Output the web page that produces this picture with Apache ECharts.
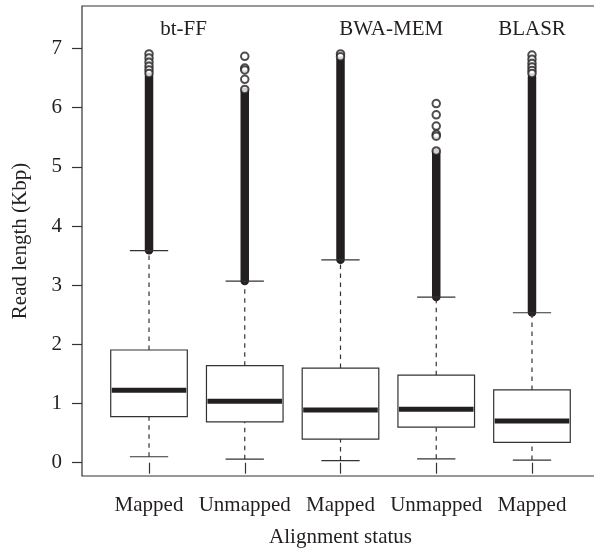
<!DOCTYPE html>
<html><head><meta charset="utf-8">
<script src="https://cdn.jsdelivr.net/npm/echarts@6/dist/echarts.min.js"></script>
<style>html,body{margin:0;padding:0;background:#fff}#c{width:594px;height:552px}</style>
</head><body><div id="c"></div>
<script>
// ---- data ----
const categories = ['Mapped', 'Unmapped', 'Mapped', 'Unmapped', 'Mapped'];
const xPositions = [1, 2, 3, 4, 5];
const whiskerLow = [0.10, 0.06, 0.035, 0.065, 0.045];
const q1 = [0.78, 0.69, 0.40, 0.60, 0.345];
const median = [1.225, 1.04, 0.89, 0.905, 0.705];
const q3 = [1.905, 1.64, 1.60, 1.48, 1.23];
const whiskerHigh = [3.585, 3.07, 3.43, 2.80, 2.535];
const denseOutlierLow = [3.59, 3.07, 3.43, 2.80, 2.54];
const denseOutlierHigh = [6.53, 6.27, 6.81, 5.24, 6.52];
const outliers1 = [6.91, 6.84, 6.77, 6.70, 6.64, 6.58];
const outliers2 = [6.87, 6.67, 6.64, 6.48, 6.31];
const outliers3 = [6.91, 6.86];
const outliers4 = [6.07, 5.88, 5.69, 5.55, 5.52, 5.27];
const outliers5 = [6.89, 6.82, 6.75, 6.69, 6.63, 6.58];
const alignerNames = ['bt-FF', 'BWA-MEM', 'BLASR'];
const alignerLabelX = [1.36, 3.53, 5.0];
const alignerLabelY = [7.32, 7.32, 7.32];
const yTicks = [0, 1, 2, 3, 4, 5, 6, 7];
const yLabel = 'Read length (Kbp)';
const xLabel = 'Alignment status';

// ---- build ----
const FONT = '"Liberation Serif", "Times New Roman", serif';
const FS = 21;
const INK = '#231f20';
const boxData = xPositions.map((x, i) => [x, whiskerLow[i], q1[i], median[i], q3[i], whiskerHigh[i]]);
const denseData = xPositions.map((x, i) => [x, denseOutlierLow[i], denseOutlierHigh[i]]);
const outlierLists = [outliers1, outliers2, outliers3, outliers4, outliers5];
const outlierData = [];
outlierLists.forEach((list, i) => list.forEach(v => outlierData.push([xPositions[i], v])));
const annotData = alignerNames.map((n, i) => [alignerLabelX[i], alignerLabelY[i], n]);

const chart = echarts.init(document.getElementById('c'), null, {renderer: 'canvas'});
chart.setOption({
  animation: false,
  backgroundColor: '#fff',
  grid: {left: 82, top: 6, width: 517, height: 470, show: true, borderColor: '#333', borderWidth: 1.2,
    backgroundColor: 'transparent', containLabel: false, outerBoundsMode: 'none'},
  xAxis: {
    type: 'value', min: 0.3, max: 5.7,
    name: xLabel, nameLocation: 'middle', nameGap: 51,
    nameTextStyle: {fontFamily: FONT, fontSize: FS, color: INK},
    axisLine: {show: false},
    splitLine: {show: false},
    axisTick: {show: true, length: 11, lineStyle: {color: '#333', width: 1.2}, customValues: xPositions},
    axisLabel: {margin: 19, fontFamily: FONT, fontSize: FS, color: INK, customValues: xPositions,
      formatter: v => categories[Math.round(v) - 1] || ''}
  },
  yAxis: {
    type: 'value', min: -0.225, max: 7.72,
    name: yLabel, nameLocation: 'middle', nameGap: 51,
    nameTextStyle: {fontFamily: FONT, fontSize: FS, color: INK},
    axisLine: {show: false},
    splitLine: {show: false},
    axisTick: {show: true, length: 10, lineStyle: {color: '#333', width: 1.2}, customValues: yTicks},
    axisLabel: {margin: 20, fontFamily: FONT, fontSize: FS, color: INK, customValues: yTicks,
      formatter: v => String(Math.round(v))}
  },
  series: [
    {
      type: 'custom', name: 'dense', data: denseData,
      encode: {x: 0, y: [1, 2]},
      renderItem: (params, api) => {
        const x = api.value(0);
        const a = api.coord([x, api.value(1)]);
        const b = api.coord([x, api.value(2)]);
        return {type: 'line', shape: {x1: a[0], y1: a[1], x2: b[0], y2: b[1]},
          style: {stroke: INK, lineWidth: 8.5, lineCap: 'round'}};
      }
    },
    {
      type: 'custom', name: 'box', data: boxData,
      encode: {x: 0, y: [1, 2, 3, 4, 5]},
      renderItem: (params, api) => {
        const x = api.value(0);
        const pLo = api.coord([x, api.value(1)]);
        const pQ1 = api.coord([x, api.value(2)]);
        const pMed = api.coord([x, api.value(3)]);
        const pQ3 = api.coord([x, api.value(4)]);
        const pHi = api.coord([x, api.value(5)]);
        const half = api.size([0.8, 0])[0] / 2;
        const capHalf = api.size([0.4, 0])[0] / 2;
        const cx = pMed[0];
        const solid = {stroke: '#333', lineWidth: 1.2, fill: null};
        const dashed = {stroke: '#333', lineWidth: 1.2, lineDash: [4.5, 4.5], fill: null};
        return {type: 'group', children: [
          {type: 'line', shape: {x1: cx, y1: pQ3[1], x2: cx, y2: pHi[1]}, style: dashed},
          {type: 'line', shape: {x1: cx, y1: pLo[1], x2: cx, y2: pQ1[1]}, style: dashed},
          {type: 'line', shape: {x1: cx - capHalf, y1: pHi[1], x2: cx + capHalf, y2: pHi[1]}, style: solid},
          {type: 'line', shape: {x1: cx - capHalf, y1: pLo[1], x2: cx + capHalf, y2: pLo[1]}, style: solid},
          {type: 'rect', shape: {x: cx - half, y: pQ3[1], width: half * 2, height: pQ1[1] - pQ3[1]},
            style: {stroke: '#333', lineWidth: 1.2, fill: '#fff'}},
          {type: 'line', shape: {x1: cx - half + 1, y1: pMed[1], x2: cx + half - 1, y2: pMed[1]},
            style: {stroke: INK, lineWidth: 5}}
        ]};
      }
    },
    {
      type: 'scatter', name: 'outliers', data: outlierData,
      symbol: 'emptyCircle', symbolSize: 7.5,
      itemStyle: {color: INK, borderColor: INK, borderWidth: 1.3}
    },
    {
      type: 'custom', name: 'aligners', data: annotData,
      encode: {x: 0, y: 1},
      renderItem: (params, api) => {
        const p = api.coord([api.value(0), api.value(1)]);
        return {type: 'text', x: p[0], y: p[1],
          style: {text: annotData[params.dataIndex][2], fill: INK, font: FS + 'px ' + FONT,
            align: 'center', verticalAlign: 'middle'}};
      }
    }
  ]
});
</script></body></html>
